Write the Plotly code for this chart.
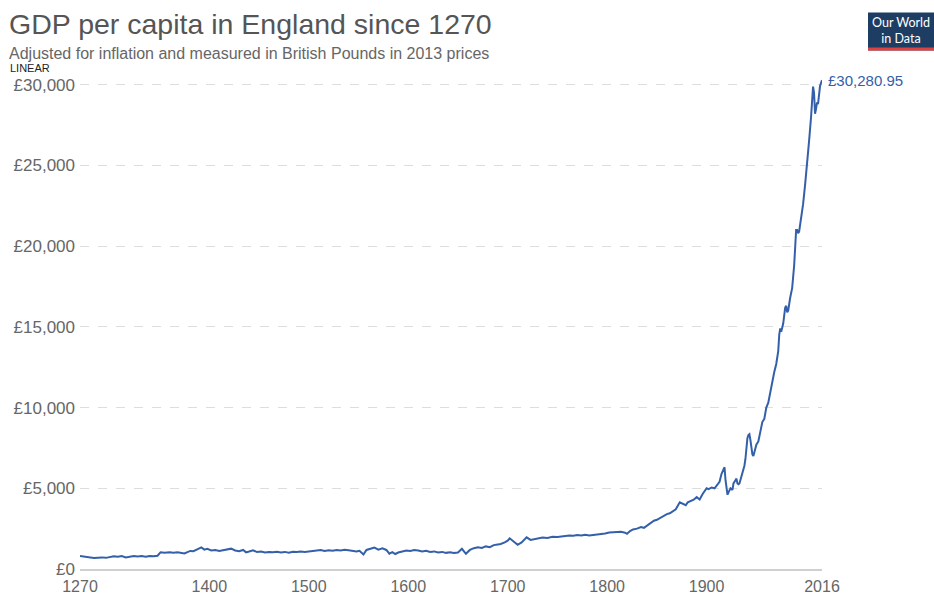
import plotly.graph_objects as go

years = [1270, 1273, 1276, 1280, 1284, 1288, 1292, 1296, 1300, 1304, 1308, 1312, 1316, 1320, 1324, 1328,
         1332, 1336, 1340, 1344, 1348, 1351, 1355, 1360, 1364, 1368, 1372, 1375, 1378, 1381, 1384, 1387,
         1390, 1392, 1395, 1398, 1402, 1406, 1410, 1414, 1418, 1422, 1426, 1430, 1434, 1437, 1440, 1444,
         1448, 1452, 1456, 1460, 1464, 1468, 1472, 1476, 1480, 1484, 1488, 1492, 1496, 1500, 1504, 1508,
         1512, 1516, 1520, 1524, 1528, 1532, 1536, 1540, 1544, 1548, 1551, 1555, 1558, 1562, 1566, 1570,
         1574, 1578, 1581, 1584, 1587, 1590, 1594, 1598, 1602, 1606, 1610, 1614, 1618, 1622, 1626, 1630,
         1634, 1638, 1642, 1646, 1650, 1654, 1658, 1662, 1666, 1670, 1674, 1678, 1682, 1686, 1690, 1693,
         1697, 1700, 1702, 1706, 1710, 1714, 1719, 1723, 1727, 1731, 1735, 1740, 1745, 1750, 1754, 1758,
         1762, 1766, 1770, 1774, 1778, 1782, 1786, 1790, 1794, 1798, 1802, 1806, 1810, 1814, 1818, 1820,
         1823, 1826, 1830, 1834, 1837, 1840, 1843, 1847, 1850, 1854, 1858, 1860, 1863, 1866, 1869, 1873,
         1876, 1879, 1881, 1884, 1887, 1890, 1893, 1896, 1899, 1900, 1902, 1905, 1908, 1910, 1913, 1915,
         1917, 1918, 1919, 1920, 1921, 1922, 1924, 1926, 1927, 1929, 1930, 1931, 1932, 1933, 1935, 1937,
         1938, 1939, 1940, 1941, 1942, 1943, 1944, 1945, 1946, 1947, 1948, 1950, 1952, 1954, 1956, 1958,
         1960, 1962, 1964, 1966, 1968, 1970, 1972, 1973, 1974, 1975, 1977, 1979, 1980, 1981, 1982, 1984,
         1986, 1988, 1989, 1990, 1991, 1992, 1993, 1995, 1997, 1999, 2001, 2003, 2005, 2006, 2007, 2008,
         2009, 2010, 2011, 2012, 2013, 2014, 2015, 2016]

gdp = [800, 780, 740, 700, 680, 700, 720, 690, 760, 790, 760, 800, 720, 770, 810, 780,
       800, 760, 800, 790, 820, 1040, 1010, 1030, 1000, 1040, 980, 960, 1050, 1120, 1100, 1200,
       1280, 1340, 1200, 1250, 1150, 1180, 1120, 1160, 1210, 1260, 1150, 1100, 1180, 1030, 1080, 1160,
       1050, 1080, 1020, 1060, 1040, 1070, 1030, 1060, 1010, 1070, 1050, 1080, 1060, 1100, 1130, 1150,
       1180, 1120, 1160, 1130, 1180, 1150, 1190, 1160, 1120, 1090, 1130, 900, 1180, 1260, 1330, 1200,
       1280, 1180, 950, 1050, 930, 1020, 1080, 1150, 1120, 1180, 1140, 1080, 1130, 1050, 1090, 1030,
       1060, 1000, 1040, 990, 1020, 1250, 940, 1180, 1290, 1350, 1300, 1400, 1350, 1480, 1520, 1550,
       1650, 1750, 1900, 1700, 1500, 1650, 1960, 1800, 1850, 1900, 1950, 1920, 1990, 1980, 2010, 2050,
       2080, 2060, 2100, 2070, 2120, 2080, 2100, 2160, 2150, 2200, 2260, 2280, 2290, 2300, 2250, 2180,
       2350, 2450, 2500, 2600, 2550, 2680, 2780, 2990, 3050, 3200, 3300, 3400, 3450, 3550, 3700, 4130,
       4050, 3950, 4130, 4200, 4290, 4450, 4300, 4650, 4900, 5000, 4950, 5050, 5000, 5150, 5400, 5900,
       6230, 6300, 5500, 5000, 4600, 4750, 5000, 4900, 5300, 5500, 5600, 5300, 5250, 5300, 5700, 6100,
       6400, 6800, 7600, 8100, 8300, 8350, 8000, 7500, 7100, 7000, 7300, 7700, 7900, 8600, 9100, 9300,
       10000, 10300, 11000, 11700, 12200, 12700, 13500, 14500, 14900, 14700, 15200, 16200, 16300, 15900, 16000, 16800,
       17400, 18800, 19900, 21000, 21000, 20800, 20900, 21700, 22600, 23800, 25000, 26500, 28000, 28800, 29880, 29500,
       28200, 28500, 28900, 28800, 29400, 29900, 30100, 30280.95]

x_ticks = [1270, 1400, 1500, 1600, 1700, 1800, 1900, 2016]
y_ticks = [0, 5000, 10000, 15000, 20000, 25000, 30000]
y_tick_labels = ["£0", "£5,000", "£10,000", "£15,000", "£20,000", "£25,000", "£30,000"]

BLUE = "#3360a9"
FONT = "Liberation Sans, Arial, sans-serif"

fig = go.Figure()
fig.add_trace(go.Scatter(x=years, y=gdp, mode="lines",
                         line=dict(color=BLUE, width=2), hoverinfo="skip"))

fig.update_layout(
    width=934, height=596,
    margin=dict(l=80, r=112, t=74.5, b=27),
    paper_bgcolor="white", plot_bgcolor="white",
    showlegend=False,
    font=dict(family=FONT, color="#666666"),
    xaxis=dict(range=[1270, 2016], tickvals=x_ticks, showgrid=False, zeroline=False,
               showline=True, linecolor="#d0d0d0", linewidth=2, automargin=False,
               tickfont=dict(size=16, color="#666666"), ticks="", ticklabelstandoff=2),
    yaxis=dict(range=[0, 30600], tickvals=y_ticks, ticktext=y_tick_labels,
               showgrid=True, gridcolor="#dddddd", griddash="dash", gridwidth=1,
               zeroline=False, showline=False, automargin=False,
               tickfont=dict(size=17, color="#666666"), ticks="", ticklabelstandoff=4),
)


def px_x(p):
    return (p - 80) / 742


def px_y(p):
    return (569 - p) / 494.5


fig.add_annotation(text="GDP per capita in England since 1270", xref="paper", yref="paper",
                   x=px_x(7), y=px_y(5), xanchor="left", yanchor="top", showarrow=False,
                   font=dict(size=28.5, color="#555555"))
fig.add_annotation(text="Adjusted for inflation and measured in British Pounds in 2013 prices",
                   xref="paper", yref="paper", x=px_x(7), y=px_y(42), xanchor="left",
                   yanchor="top", showarrow=False, font=dict(size=16, color="#666666"))
fig.add_annotation(text="LINEAR", xref="paper", yref="paper", x=px_x(8), y=px_y(59),
                   xanchor="left", yanchor="top", showarrow=False,
                   font=dict(size=11, color="#222222"))

fig.add_annotation(text=f"£{gdp[-1]:,.2f}", x=years[-1], y=gdp[-1], xref="x", yref="y",
                   xanchor="left", yanchor="middle", xshift=4, showarrow=False,
                   font=dict(size=15, color=BLUE))

# Our World in Data logo
fig.add_shape(type="rect", xref="paper", yref="paper", x0=px_x(868), x1=px_x(934),
              y0=px_y(50), y1=px_y(12), fillcolor="#1d3d63", line=dict(width=0), layer="above")
fig.add_shape(type="rect", xref="paper", yref="paper", x0=px_x(868), x1=px_x(934),
              y0=px_y(50), y1=px_y(47), fillcolor="#e0413d", line=dict(width=0), layer="above")
fig.add_annotation(text="Our World<br>in Data", xref="paper", yref="paper",
                   x=px_x(901), y=px_y(29.5), xanchor="center", yanchor="middle",
                   showarrow=False, align="center",
                   font=dict(size=12.5, color="white", family="Lato, Liberation Sans, sans-serif"))

fig.write_html(
    "out.html",
    config={"displayModeBar": False},
    post_script="document.body.style.margin='0';"
                "document.documentElement.style.overflow='hidden';"
                "document.body.style.overflow='hidden';",
)
